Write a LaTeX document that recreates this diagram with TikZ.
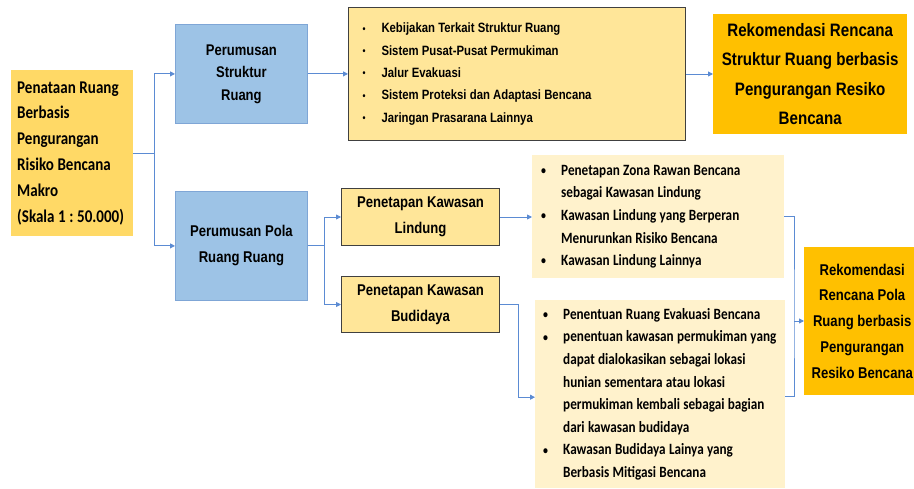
\documentclass[tikz,border=0pt]{standalone}
\usepackage{fontspec}
\setmainfont{Carlito}
\newfontfamily\calib[FakeStretch=0.84]{Carlito}
\newfontfamily\arialn[FakeStretch=0.84]{Liberation Sans}
\usetikzlibrary{arrows.meta}
\frenchspacing

\definecolor{emas}{HTML}{FFD966}
\definecolor{biru}{HTML}{9DC3E6}
\definecolor{birugaris}{HTML}{7FA6D6}
\definecolor{kuning}{HTML}{FFE699}
\definecolor{krem}{HTML}{FFF2CC}
\definecolor{oranye}{HTML}{FFC000}
\definecolor{panah}{HTML}{5B8BD3}

% butir daftar dan baris lanjutan
\newcommand{\bt}[2][20pt]{\makebox[#1][l]{\raisebox{0.1ex}{\scalebox{0.75}{•}}}\mbox{#2}}
\newcommand{\lj}[2][20pt]{\hspace*{#1}\mbox{#2}}
\newcommand{\spasi}[1]{\spaceskip=#1\relax\xspaceskip=#1\relax}

\begin{document}
\begin{tikzpicture}[x=1pt, y=-1pt,
        every node/.style={inner sep=0pt, anchor=north west},
        celah/.style={execute at begin node={\spasi{#1}}},
        asal/.style={fill=emas, align=left, celah=3.6pt, font=\calib\bfseries\fontsize{17.9}{25.8}\selectfont},
        perum/.style={draw=birugaris, fill=biru, line width=0.8pt, align=center, celah=3.7pt, minimum width=132pt, font=\arialn\bfseries\fontsize{15.5}{22.5}\selectfont},
        tetap/.style={draw=black!75, fill=kuning, line width=1pt, align=center, celah=3.7pt, minimum width=158pt, font=\arialn\bfseries\fontsize{15.6}{26}\selectfont},
        daftar/.style={fill=krem, align=left, celah=3.3pt, font=\calib\bfseries\fontsize{15.7}{22.6}\selectfont},
        rekom/.style={fill=oranye, align=center, celah=3.7pt, font=\arialn\bfseries\fontsize{15.6}{25.8}\selectfont},
        arrow/.style={-{Triangle[length=5pt,width=5pt]}, draw=panah, line width=0.9pt},
        conn/.style={draw=panah, line width=0.9pt}
    ]
        \useasboundingbox[fill=white] (0,0) rectangle (914,489);

        % kolom kiri
        \node[asal, text width=110pt, inner xsep=6pt, minimum height=166pt] (penataan) at (11,70) {Penataan Ruang\\Berbasis\\Pengurangan\\Risiko Bencana\\Makro\\\mbox{(Skala 1 : 50.000)}};
        \node[perum, minimum height=99pt] (struktur) at (175,24) {Perumusan\\Struktur\\Ruang};
        \node[perum, minimum height=109pt, font=\arialn\bfseries\fontsize{15.6}{26}\selectfont] (pola) at (175,191) {Perumusan Pola\\Ruang Ruang};

        % struktur ruang
        \node[daftar, draw=black!75, line width=1pt, fill=kuning, text width=309pt, inner xsep=14pt, minimum height=133pt, celah=3.2pt, font=\arialn\bfseries\fontsize{13.5}{22.3}\selectfont] (slist) at (348,7) {\bt[19pt]{Kebijakan Terkait Struktur Ruang}\\\bt[19pt]{Sistem Pusat-Pusat Permukiman}\\\bt[19pt]{Jalur Evakuasi}\\\bt[19pt]{Sistem Proteksi dan Adaptasi Bencana}\\\bt[19pt]{Jaringan Prasarana Lainnya}};
        \node[rekom, minimum width=194pt, minimum height=120pt, celah=4.3pt, font=\arialn\bfseries\fontsize{18}{29.5}\selectfont] (rstruktur) at (713,14) {Rekomendasi Rencana\\Struktur Ruang berbasis\\Pengurangan Resiko\\Bencana};

        % pola ruang
        \node[tetap, minimum height=57pt] (lindung) at (341,188) {Penetapan Kawasan\\Lindung};
        \node[tetap, minimum height=56pt] (budidaya) at (341,276) {Penetapan Kawasan\\Budidaya};
        \node[daftar, text width=234pt, inner xsep=9pt, minimum height=123pt] (llist) at (532,155) {\bt{Penetapan Zona Rawan Bencana}\\\lj{sebagai Kawasan Lindung}\\\bt{Kawasan Lindung yang Berperan}\\\lj{Menurunkan Risiko Bencana}\\\bt{Kawasan Lindung Lainnya}};
        \node[daftar, text width=234pt, inner xsep=8pt, minimum height=188pt] (blist) at (535,300) {\bt{Penentuan Ruang Evakuasi Bencana}\\\bt{penentuan kawasan permukiman yang}\\\lj{dapat dialokasikan sebagai lokasi}\\\lj{hunian sementara atau lokasi}\\\lj{permukiman kembali sebagai bagian}\\\lj{dari kawasan budidaya}\\\bt{Kawasan Budidaya Lainya yang}\\\lj{Berbasis Mitigasi Bencana}};
        \node[rekom, minimum width=116pt, minimum height=148pt] (rpola) at (804,247) {Rekomendasi\\Rencana Pola\\Ruang berbasis\\Pengurangan\\Resiko Bencana};

        % penghubung
        \draw[arrow] (penataan.east) -- ++(21,0) |- (struktur.west);
        \draw[arrow] (penataan.east) -- ++(21,0) |- (pola.west);
        \draw[arrow] (struktur.east) -- (struktur.east -| slist.west);
        \draw[arrow] (slist.east) -- (slist.east -| rstruktur.west);
        \draw[arrow] (pola.east) -- ++(17,0) |- (lindung.west);
        \draw[arrow] (pola.east) -- ++(17,0) |- (budidaya.west);
        \draw[arrow] (lindung.east) -- (lindung.east -| llist.west);
        \draw[arrow] (budidaya.east) -- ++(18,0) |- ([yshift=-3pt]blist.west);
        \coordinate (gabung) at (794,321);
        \draw[conn] (llist.east) -| (gabung) |- ([yshift=-2pt]blist.east);
        \draw[arrow] (gabung) -- (gabung -| rpola.west);
    \end{tikzpicture}
\end{document}
